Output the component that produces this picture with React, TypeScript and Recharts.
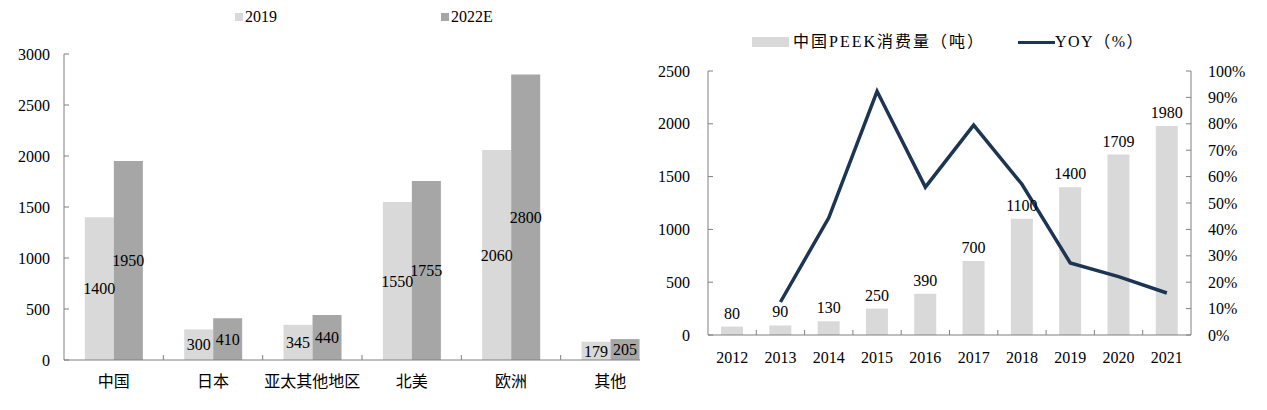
import { BarChart, ComposedChart, Bar, Line, XAxis, YAxis, Legend, LabelList } from 'recharts';

// left chart: PEEK demand by region (2019 vs 2022E)
const regions = ['中国', '日本', '亚太其他地区', '北美', '欧洲', '其他'];
const demand2019 = [1400, 300, 345, 1550, 2060, 179];
const demand2022E = [1950, 410, 440, 1755, 2800, 205];
const regionTicks = [0, 500, 1000, 1500, 2000, 2500, 3000];

// right chart: China PEEK consumption + YOY
const years = ['2012', '2013', '2014', '2015', '2016', '2017', '2018', '2019', '2020', '2021'];
const consumption = [80, 90, 130, 250, 390, 700, 1100, 1400, 1709, 1980];
const yoy = [null, 12.5, 44.4, 92.3, 56.0, 79.5, 57.1, 27.3, 22.1, 15.9];
const consumptionTicks = [0, 500, 1000, 1500, 2000, 2500];
const yoyTicks = [0, 10, 20, 30, 40, 50, 60, 70, 80, 90, 100];

const FONT = "Liberation Serif, DejaVu Serif, serif, Noto Sans CJK SC";
const AXIS = '#808080';
const LIGHT = '#d9d9d9';
const DARK = '#a6a6a6';
const NAVY = '#1c3553';

const regionData = regions.map((r, i) => ({ region: r, y2019: demand2019[i], y2022E: demand2022E[i] }));
const yearData = years.map((y, i) => ({ year: y, consumption: consumption[i], yoy: yoy[i] }));

function BandTick(props: any) {
  const { x, y, payload, index, band, dy } = props;
  const half = typeof payload.offset === 'number' && payload.offset > 0 ? payload.offset : band / 2;
  return (
    <g>
      {index > 0 && <line x1={x - half} x2={x - half} y1={y} y2={y - 5} stroke={AXIS} />}
      <text x={x} y={y + dy} textAnchor="middle" dominantBaseline="central" fill="#000" fontSize={16} style={{ fontFamily: FONT }}>
        {payload.value}
      </text>
    </g>
  );
}

const textStyle = { fill: '#000', fontSize: 16, style: { fontFamily: FONT } };

function LeftLegend() {
  const item = (x: number, color: string, label: string) => (
    <div style={{ position: 'absolute', left: x, top: 7, display: 'flex', alignItems: 'center', fontFamily: FONT, fontSize: 16, color: '#000', lineHeight: '20px' }}>
      <span style={{ display: 'inline-block', width: 8, height: 8, background: color, marginRight: 2 }} />
      {label}
    </div>
  );
  return (
    <div style={{ position: 'relative', width: 640, height: 30 }}>
      {item(235, LIGHT, '2019')}
      {item(441, DARK, '2022E')}
    </div>
  );
}

function RightLegend() {
  return (
    <div style={{ position: 'relative', width: 627, height: 60, fontFamily: FONT, fontSize: 16, color: '#000' }}>
      <div style={{ position: 'absolute', left: 112, top: 31, display: 'flex', alignItems: 'center', lineHeight: '22px', letterSpacing: 2 }}>
        <span style={{ display: 'inline-block', width: 37, height: 10, background: LIGHT, marginRight: 4 }} />
        中国PEEK消费量（吨）
      </div>
      <div style={{ position: 'absolute', left: 378, top: 31, display: 'flex', alignItems: 'center', lineHeight: '22px', letterSpacing: 1.5 }}>
        <span style={{ display: 'inline-block', width: 37, height: 3, background: NAVY }} />
        YOY（%）
      </div>
    </div>
  );
}

export default function App() {
  return (
    <div style={{ position: 'absolute', left: 0, top: 0, width: 1267, height: 410, background: '#fff', overflow: 'hidden' }}>
      <div style={{ position: 'absolute', left: 0, top: 0 }}>
        <BarChart
          width={640}
          height={410}
          data={regionData}
          margin={{ top: 54, right: -20, bottom: 10, left: 8 }}
          barCategoryGap="21%"
          barGap={0}
        >
          <XAxis
            dataKey="region"
            height={40}
            interval={0}
            tickLine={false}
            tickSize={0}
            tickMargin={0}
            axisLine={{ stroke: AXIS }}
            tick={(p: any) => <BandTick {...p} band={99.3} dy={21} />}
          />
          <YAxis
            width={56}
            domain={[0, 3000]}
            ticks={regionTicks}
            interval={0}
            tickSize={-5}
            tickMargin={19}
            axisLine={{ stroke: AXIS }}
            tickLine={{ stroke: AXIS }}
            tick={textStyle}
          />
          <Legend
            layout="horizontal"
            verticalAlign="middle"
            align="center"
            wrapperStyle={{ left: 0, top: 0, width: 640, height: 30 }}
            content={() => <LeftLegend />}
          />
          <Bar dataKey="y2019" name="2019" fill={LIGHT} isAnimationActive={false}>
            <LabelList dataKey="y2019" position="center" {...textStyle} />
          </Bar>
          <Bar dataKey="y2022E" name="2022E" fill={DARK} isAnimationActive={false}>
            <LabelList dataKey="y2022E" position="center" {...textStyle} />
          </Bar>
        </BarChart>
      </div>

      <div style={{ position: 'absolute', left: 640, top: 0 }}>
        <ComposedChart
          width={627}
          height={410}
          data={yearData}
          margin={{ top: 71, right: 16, bottom: 45, left: 8 }}
          barCategoryGap="27%"
        >
          <XAxis
            dataKey="year"
            height={30}
            interval={0}
            tickLine={false}
            tickSize={0}
            tickMargin={0}
            axisLine={{ stroke: AXIS }}
            tick={(p: any) => <BandTick {...p} band={48.3} dy={22} />}
          />
          <YAxis
            yAxisId="left"
            width={60}
            domain={[0, 2500]}
            ticks={consumptionTicks}
            interval={0}
            tickSize={-5}
            tickMargin={23}
            axisLine={{ stroke: AXIS }}
            tickLine={{ stroke: AXIS }}
            tick={textStyle}
          />
          <YAxis
            yAxisId="right"
            orientation="right"
            width={60}
            domain={[0, 100]}
            ticks={yoyTicks}
            interval={0}
            tickSize={-5}
            tickMargin={22}
            tickFormatter={(v: number) => `${v}%`}
            axisLine={{ stroke: AXIS }}
            tickLine={{ stroke: AXIS }}
            tick={textStyle}
          />
          <Legend
            layout="horizontal"
            verticalAlign="middle"
            align="center"
            wrapperStyle={{ left: 0, top: 0, width: 627, height: 60 }}
            content={() => <RightLegend />}
          />
          <Bar yAxisId="left" dataKey="consumption" name="中国PEEK消费量（吨）" fill={LIGHT} isAnimationActive={false}>
            <LabelList dataKey="consumption" position="top" offset={8} {...textStyle} />
          </Bar>
          <Line
            yAxisId="right"
            dataKey="yoy"
            name="YOY（%）"
            stroke={NAVY}
            strokeWidth={3.5}
            dot={false}
            activeDot={false}
            isAnimationActive={false}
          />
        </ComposedChart>
      </div>
    </div>
  );
}
